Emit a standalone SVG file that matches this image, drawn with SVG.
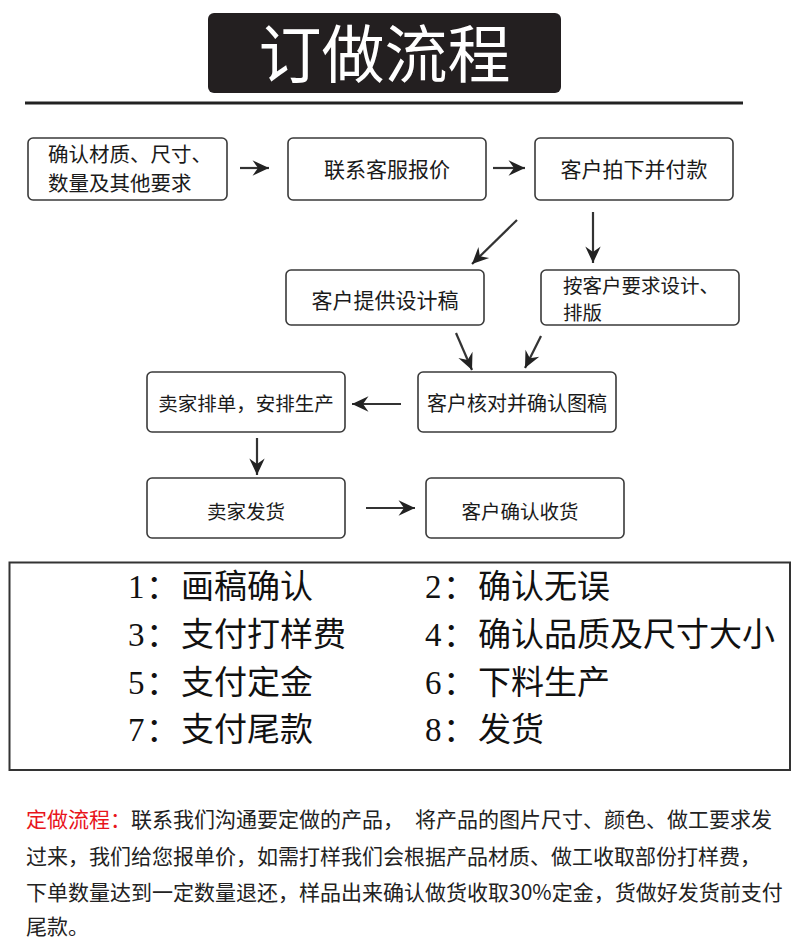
<svg xmlns="http://www.w3.org/2000/svg" width="800" height="939" viewBox="0 0 800 939">
<style>
.node rect{fill:#fff;stroke:#3a3a3a;stroke-width:1.6}
.t{font-family:"Noto Sans CJK SC","Noto Sans",sans-serif;fill:#1a1a1a}
.c{text-anchor:middle}
.conn line{stroke:#333;stroke-width:2.2;fill:none}
.tb{font-family:"Liberation Serif","Noto Sans CJK SC",serif;font-size:33px;fill:#111}
.tbc{font-family:"Noto Sans CJK SC",sans-serif;font-size:33px;fill:#111}
.bt{font-family:"Noto Sans CJK SC","Noto Sans",sans-serif;font-size:21px;fill:#222}
</style>
<defs>
<marker id="ah" markerUnits="userSpaceOnUse" markerWidth="22" markerHeight="22" viewBox="-18 -9 20 18" refX="0" refY="0" orient="auto">
<path d="M0,0 L-15,-7 L-10,0 L-15,7 Z" fill="#222"/>
</marker>
</defs>
<rect width="800" height="939" fill="#fff"/>
<g id="title">
<rect x="208" y="13" width="353" height="80" rx="6" fill="#231f20"/>
<text x="384.5" y="77" class="c" font-family="Noto Sans CJK SC,sans-serif" font-size="63" fill="#fff">订做流程</text>
<line x1="25" y1="103" x2="743" y2="103" stroke="#222" stroke-width="3"/>
</g>
<g id="n1" class="node"><rect x="28" y="138" width="199" height="62" rx="5"/>
<text class="t" font-size="20.5"><tspan x="48" y="162">确认材质、尺寸、</tspan><tspan x="48" y="191">数量及其他要求</tspan></text></g>
<g id="n2" class="node"><rect x="288" y="138" width="198" height="62" rx="5"/>
<text class="t c" x="387" y="177" font-size="21">联系客服报价</text></g>
<g id="n3" class="node"><rect x="535" y="138" width="198" height="62" rx="5"/>
<text class="t c" x="634" y="177" font-size="21">客户拍下并付款</text></g>
<g id="n4" class="node"><rect x="286" y="270" width="198" height="55" rx="5"/>
<text class="t c" x="385" y="308" font-size="21">客户提供设计稿</text></g>
<g id="n5" class="node"><rect x="541" y="270" width="198" height="55" rx="5"/>
<text class="t" font-size="19.5"><tspan x="563" y="293">按客户要求设计、</tspan><tspan x="563" y="320">排版</tspan></text></g>
<g id="n6" class="node"><rect x="418" y="372" width="198" height="60" rx="5"/>
<text class="t c" x="517" y="411" font-size="20">客户核对并确认图稿</text></g>
<g id="n7" class="node"><rect x="147" y="372" width="198" height="60" rx="5"/>
<text class="t c" x="246" y="411" font-size="19.5">卖家排单，安排生产</text></g>
<g id="n8" class="node"><rect x="147" y="478" width="198" height="60" rx="5"/>
<text class="t c" x="246" y="519" font-size="19.5">卖家发货</text></g>
<g id="n9" class="node"><rect x="426" y="478" width="198" height="60" rx="5"/>
<text class="t c" x="520" y="519" font-size="19.5">客户确认收货</text></g>
<g id="connectors" class="conn">
<line x1="240" y1="168" x2="269" y2="168" marker-end="url(#ah)"/>
<line x1="493" y1="168" x2="525" y2="168" marker-end="url(#ah)"/>
<line x1="517" y1="220" x2="472" y2="264" marker-end="url(#ah)"/>
<line x1="593" y1="212" x2="593" y2="263" marker-end="url(#ah)"/>
<line x1="456" y1="333" x2="472" y2="370" marker-end="url(#ah)"/>
<line x1="541" y1="336" x2="525" y2="368" marker-end="url(#ah)"/>
<line x1="401" y1="404" x2="352" y2="404" marker-end="url(#ah)"/>
<line x1="257" y1="438" x2="257" y2="475" marker-end="url(#ah)"/>
<line x1="366" y1="508" x2="415" y2="508" marker-end="url(#ah)"/>
</g>
<g id="steps">
<rect x="9.5" y="562.5" width="780.5" height="207.5" fill="none" stroke="#333" stroke-width="2"/>
<text class="tb"><tspan x="128" y="598">1</tspan><tspan class="tbc" x="146" y="598">：</tspan><tspan class="tbc" x="181" y="598">画稿确认</tspan></text>
<text class="tb"><tspan x="425" y="598">2</tspan><tspan class="tbc" x="443" y="598">：</tspan><tspan class="tbc" x="478" y="598">确认无误</tspan></text>
<text class="tb"><tspan x="128" y="646">3</tspan><tspan class="tbc" x="146" y="646">：</tspan><tspan class="tbc" x="181" y="646">支付打样费</tspan></text>
<text class="tb"><tspan x="425" y="646">4</tspan><tspan class="tbc" x="443" y="646">：</tspan><tspan class="tbc" x="478" y="646">确认品质及尺寸大小</tspan></text>
<text class="tb"><tspan x="128" y="694">5</tspan><tspan class="tbc" x="146" y="694">：</tspan><tspan class="tbc" x="181" y="694">支付定金</tspan></text>
<text class="tb"><tspan x="425" y="694">6</tspan><tspan class="tbc" x="443" y="694">：</tspan><tspan class="tbc" x="478" y="694">下料生产</tspan></text>
<text class="tb"><tspan x="128" y="741">7</tspan><tspan class="tbc" x="146" y="741">：</tspan><tspan class="tbc" x="181" y="741">支付尾款</tspan></text>
<text class="tb"><tspan x="425" y="741">8</tspan><tspan class="tbc" x="443" y="741">：</tspan><tspan class="tbc" x="478" y="741">发货</tspan></text>
</g>
<g id="note">
<text class="bt" x="26" y="827"><tspan fill="#e8141b">定做流程：</tspan>联系我们沟通要定做的产品，<tspan x="415">将产品的图片尺寸、颜色、做工要求发</tspan></text>
<text class="bt" x="26" y="864">过来，我们给您报单价，如需打样我们会根据产品材质、做工收取部份打样费，</text>
<text class="bt" x="26" y="900">下单数量达到一定数量退还，样品出来确认做货收取30%定金，货做好发货前支付</text>
<text class="bt" x="26" y="934">尾款。</text>
</g>
</svg>
